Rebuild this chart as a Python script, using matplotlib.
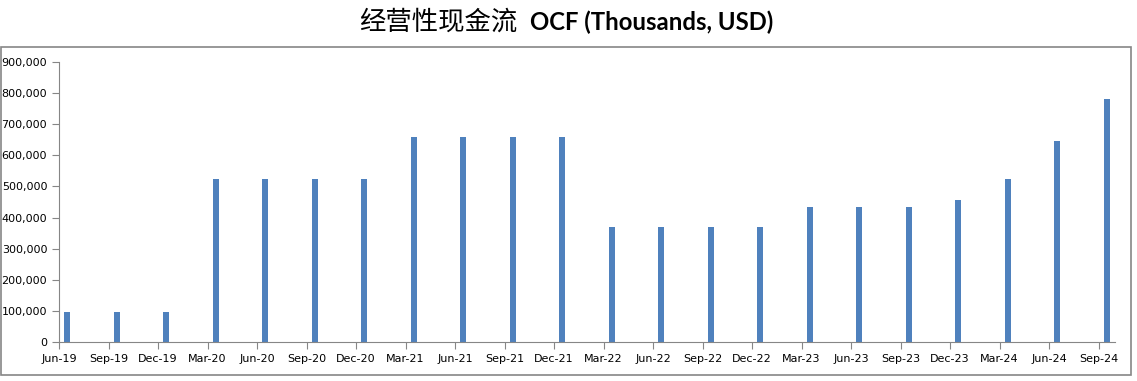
import matplotlib.pyplot as plt
from matplotlib.patches import Rectangle
from matplotlib.ticker import FuncFormatter

# quarterly operating cash flow, thousands USD
quarters = ['Jun-19', 'Sep-19', 'Dec-19', 'Mar-20', 'Jun-20', 'Sep-20', 'Dec-20',
            'Mar-21', 'Jun-21', 'Sep-21', 'Dec-21', 'Mar-22', 'Jun-22', 'Sep-22',
            'Dec-22', 'Mar-23', 'Jun-23', 'Sep-23', 'Dec-23', 'Mar-24', 'Jun-24',
            'Sep-24']
ocf = [97000, 97000, 97000, 524000, 524000, 524000, 524000,
       660000, 660000, 660000, 660000, 370000, 370000, 370000,
       370000, 434000, 434000, 434000, 456000, 524000, 646000,
       782000]

plt.rcParams['font.family'] = ['DejaVu Sans']

fig = plt.figure(figsize=(11.37, 3.81), dpi=100)
ax = fig.add_axes([59 / 1137, 39 / 381, (1115 - 59) / 1137, 280 / 381])

# date axis in months: ticks at start of each quarter month, bars mid-month
months = [3 * i for i in range(len(quarters))]
ax.bar([m + 0.5 for m in months], ocf, width=0.36, color='#4F81BD')

ax.set_xlim(0, 3 * (len(quarters) - 1) + 1)
ax.set_ylim(0, 900000)
ax.set_xticks(months)
ax.set_xticklabels(quarters)
ax.set_yticks(range(0, 900001, 100000))
ax.yaxis.set_major_formatter(FuncFormatter(lambda v, p: f'{v:,.0f}'))

for s in ['top', 'right']:
    ax.spines[s].set_visible(False)
for s in ['left', 'bottom']:
    ax.spines[s].set_color('#868686')
ax.tick_params(axis='both', colors='#868686', labelcolor='black',
               labelsize=8, length=5, direction='out',
               labelfontfamily='DejaVu Sans')

# outer chart frame
fig.patches.append(Rectangle((0.5 / 1137, (381 - 375) / 381), 1130 / 1137, 328 / 381,
                             transform=fig.transFigure, fill=False,
                             edgecolor='#868686', linewidth=1.2))

fig.text(517 / 1137, 0.942, '经营性现金流', family=['Noto Sans CJK SC', 'DejaVu Sans'],
         fontsize=19, ha='right', va='center')
fig.text(530 / 1137, 0.942, 'OCF (Thousands, USD)', family=['Lato', 'DejaVu Sans'],
         fontsize=17.2, fontweight='bold', ha='left', va='center')

fig.savefig('out.png', dpi=100)
